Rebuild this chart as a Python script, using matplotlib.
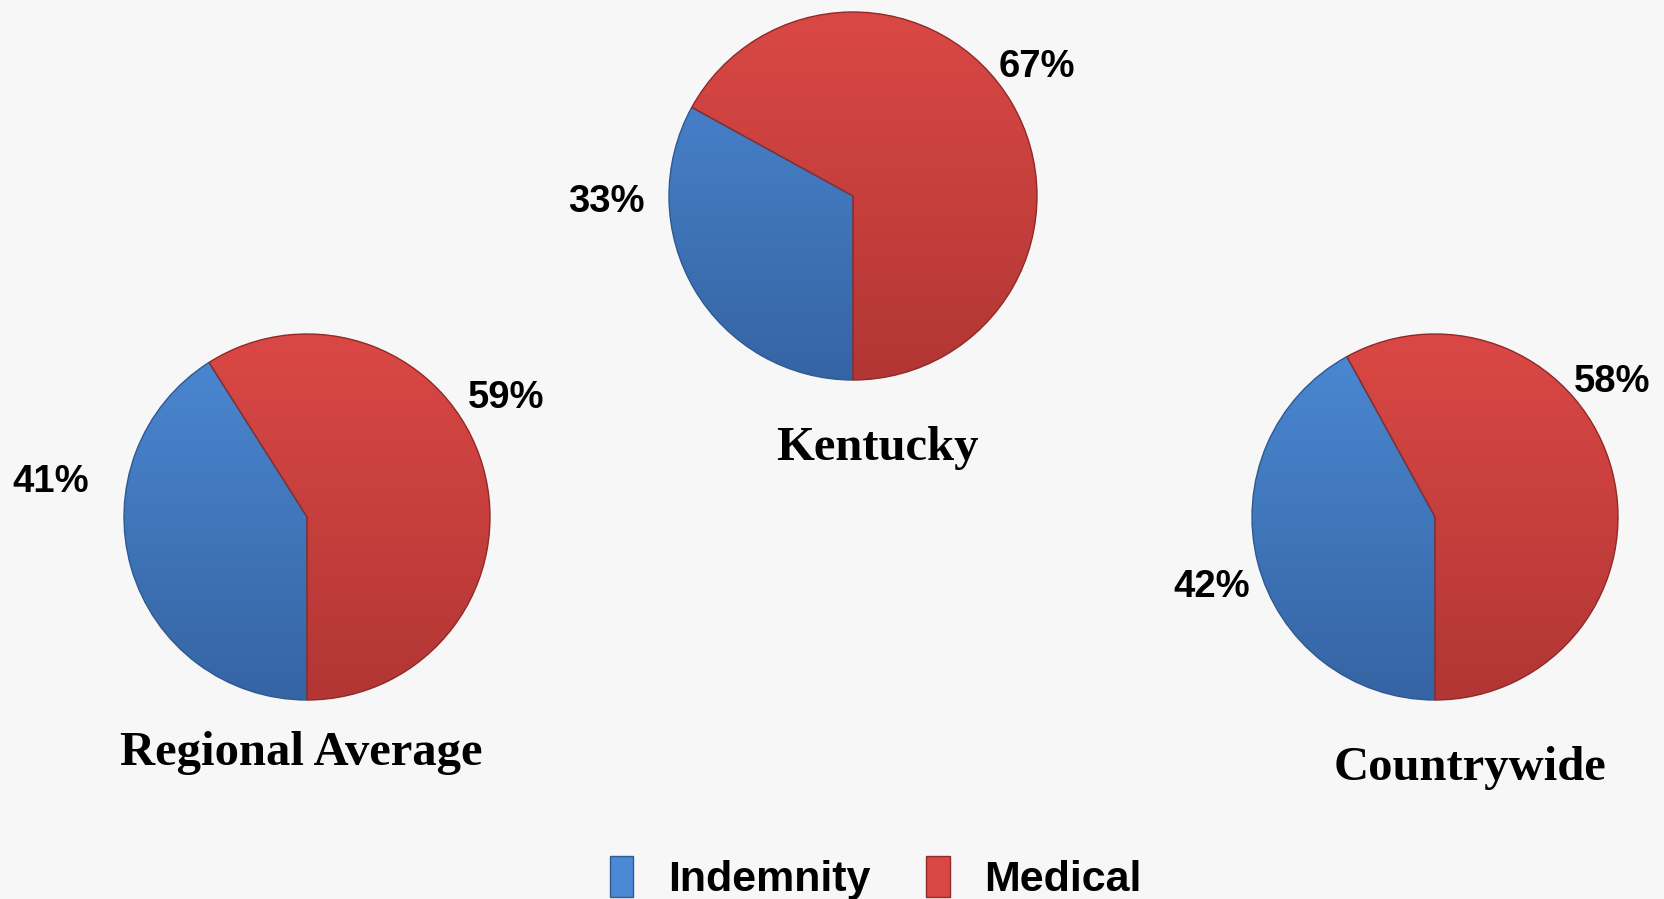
import numpy as np
import matplotlib.pyplot as plt
from matplotlib.colors import LinearSegmentedColormap
from matplotlib.patches import PathPatch

# data
regions = ['Regional Average', 'Kentucky', 'Countrywide']
categories = ['Indemnity', 'Medical']
indemnity = [41, 33, 42]
medical = [59, 67, 58]

# layout (pixel centre x, centre y from top, radius) and label offsets in radius units
pie_pos = [(307, 517, 183), (853, 196, 184), (1435, 517, 183)]
label_off = [[(-1.40, 0.19), (1.09, 0.65)],
             [(-1.34, -0.03), (1.00, 0.70)],
             [(-1.22, -0.38), (0.97, 0.74)]]
title_off = [(-0.03, -1.29), (0.13, -1.37), (0.19, -1.37)]

W, H = 1665, 899
bg = '#f7f7f7'
grad = {
    'Indemnity': ('#4c89d4', '#3564a3'),
    'Medical': ('#da4845', '#b23634'),
}
edge = {'Indemnity': '#2f5a92', 'Medical': '#8e2c2a'}
pad = 1.02

fig = plt.figure(figsize=(W / 100, H / 100), dpi=100, facecolor=bg)

for i, name in enumerate(regions):
    cx, cy, r = pie_pos[i]
    ra = r * pad
    ax = fig.add_axes([(cx - ra) / W, (H - cy - ra) / H, 2 * ra / W, 2 * ra / H])
    ax.set_facecolor('none')
    vals = [indemnity[i], medical[i]]
    wedges, _ = ax.pie(vals, startangle=-90, counterclock=False, radius=1,
                       colors=[grad[c][0] for c in categories],
                       wedgeprops=dict(linewidth=0))
    # vertical shading inside each wedge
    yy = np.linspace(1, 0, 256).reshape(-1, 1)
    for w, c in zip(wedges, categories):
        cmap = LinearSegmentedColormap.from_list(c, [grad[c][1], grad[c][0]])
        im = ax.imshow(yy, cmap=cmap, extent=[-1, 1, -1, 1], aspect='auto',
                       zorder=w.get_zorder() + 0.1)
        im.set_clip_path(w)
        ax.add_patch(PathPatch(w.get_path(), fill=False, edgecolor=edge[c],
                               linewidth=1.0, zorder=5, transform=w.get_transform()))
    ax.set_xlim(-pad, pad)
    ax.set_ylim(-pad, pad)
    ax.axis('off')

    for (dx, dy), v in zip(label_off[i], vals):
        ax.text(dx, dy, f'{v}%', ha='center', va='center', fontsize=27.5,
                fontweight='bold', family='Liberation Sans', clip_on=False)
    tx, ty = title_off[i]
    ax.text(tx, ty, name, ha='center', va='center', fontsize=35,
            fontweight='bold', family='Liberation Serif', clip_on=False)

# legend
handles = [plt.Rectangle((0, 0), 1, 1, facecolor=grad[c][0], edgecolor=edge[c])
           for c in categories]
fig.legend(handles, categories, loc='center', bbox_to_anchor=(0.526, (H - 878) / H),
           ncol=2, frameon=False, handlelength=0.55, handleheight=1.1,
           columnspacing=1.3, handletextpad=0.8,
           prop={'family': 'Liberation Sans', 'weight': 'bold', 'size': 31})

fig.savefig('out.png', dpi=100, facecolor=bg)
